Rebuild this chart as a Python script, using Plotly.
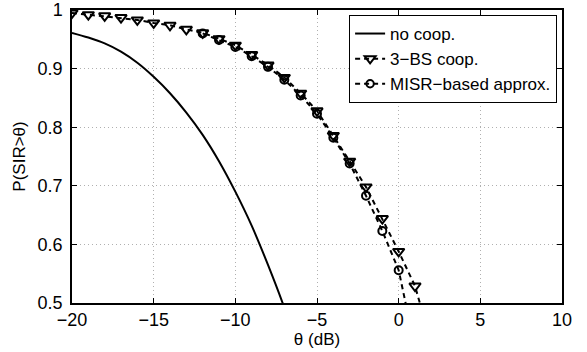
import plotly.graph_objects as go

# no cooperation (solid line)
theta_nc = [-20, -19, -18, -17, -16, -15, -14, -13, -12, -11, -10, -9, -8, -7, -6]
p_nc = [0.961, 0.953, 0.943, 0.929, 0.910, 0.886, 0.858, 0.825, 0.787, 0.742, 0.690, 0.632, 0.565, 0.492, 0.41]

# 3-BS cooperation (dashed, triangles); last point only continues the line
theta_3bs = [-20, -19, -18, -17, -16, -15, -14, -13, -12, -11, -10, -9, -8, -7, -6,
             -5, -4, -3, -2, -1, 0, 1, 1.5]
p_3bs = [0.995, 0.992, 0.990, 0.987, 0.983, 0.978, 0.974, 0.967, 0.961, 0.951, 0.940,
         0.924, 0.906, 0.885, 0.858, 0.828, 0.786, 0.742, 0.698, 0.644, 0.588, 0.529, 0.48]
size_3bs = [10] * 22 + [0]

# MISR-based approximation (dashed, circles); last point only continues the line
theta_misr = [-12, -11, -10, -9, -8, -7, -6, -5, -4, -3, -2, -1, 0, 0.5]
p_misr = [0.960, 0.949, 0.937, 0.921, 0.903, 0.881, 0.854, 0.823, 0.782, 0.738,
          0.683, 0.623, 0.556, 0.49]
size_misr = [8] * 13 + [0]

x_ticks = [-20, -15, -10, -5, 0, 5, 10]
x_ticktext = ["\u221220", "\u221215", "\u221210", "\u22125", "0", "5", "10"]
y_ticks = [0.5, 0.6, 0.7, 0.8, 0.9, 1.0]
y_ticktext = ["0.5", "0.6", "0.7", "0.8", "0.9", "1"]

fig = go.Figure()
fig.add_trace(go.Scatter(x=theta_nc, y=p_nc, mode="lines", name="no coop.",
                         line=dict(color="black", width=2, shape="spline")))
fig.add_trace(go.Scatter(x=theta_3bs, y=p_3bs, mode="lines+markers", name="3\u2212BS coop.",
                         line=dict(color="black", width=2, dash="5px,4px"),
                         marker=dict(symbol="triangle-down-open", size=size_3bs, color="#000000",
                                     opacity=1, line=dict(width=2, color="#000000"))))
fig.add_trace(go.Scatter(x=theta_misr, y=p_misr, mode="lines+markers", name="MISR\u2212based approx.",
                         line=dict(color="black", width=2, dash="5px,4px"),
                         marker=dict(symbol="circle-open", size=size_misr, color="#000000",
                                     opacity=1, line=dict(width=2, color="#000000"))))

axis_common = dict(showline=True, linecolor="black", linewidth=1.5, mirror="ticks",
                   ticks="inside", ticklen=5, tickcolor="black", tickwidth=1,
                   showgrid=True, gridcolor="#b0b0b0", griddash="1px,3px", gridwidth=1,
                   zeroline=False, automargin=False,
                   tickfont=dict(size=18, color="black"))

fig.update_xaxes(range=[-20, 10], tickvals=x_ticks, ticktext=x_ticktext,
                 title=dict(text="\u03b8 (dB)", font=dict(size=17, color="black"), standoff=0),
                 **axis_common)
fig.update_yaxes(range=[0.5, 1.0], tickvals=y_ticks, ticktext=y_ticktext,
                 ticklabelstandoff=4,
                 title=dict(text="P(SIR>\u03b8)", font=dict(size=17, color="black"), standoff=8),
                 **axis_common)

fig.update_layout(
    width=587, height=352,
    template="none",
    margin=dict(l=72, r=25, t=10, b=49, pad=0),
    paper_bgcolor="white", plot_bgcolor="white",
    font=dict(family="Liberation Sans, Arial, sans-serif", color="black"),
    legend=dict(x=0.99, y=0.983, xanchor="right", yanchor="top",
                bgcolor="white", bordercolor="black", borderwidth=1,
                font=dict(size=17, color="black"), tracegroupgap=0,
                itemwidth=30),
    showlegend=True,
)

fig.write_html("out.html", config={"displayModeBar": False},
               post_script="document.body.style.margin='0';")
